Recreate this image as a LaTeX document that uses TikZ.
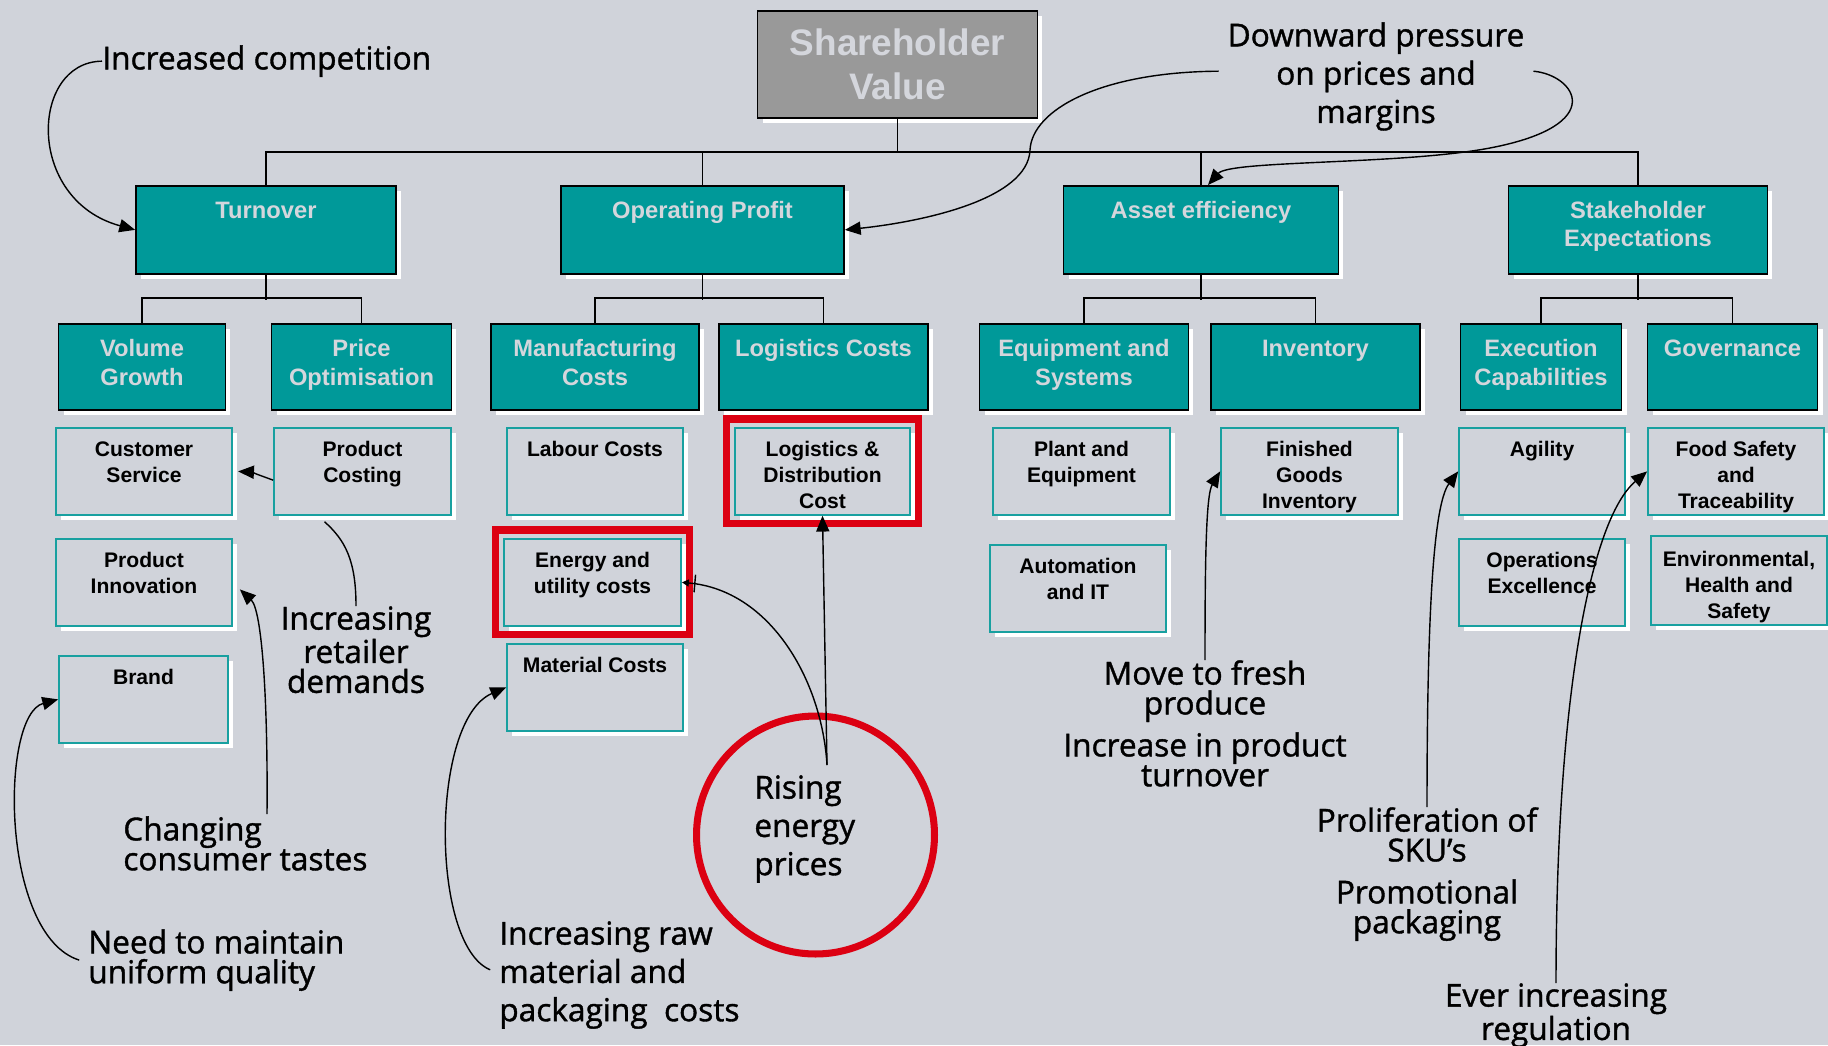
\documentclass[tikz,border=0pt]{standalone}
\usepackage{fontspec}
\setmainfont{Liberation Sans}
\newfontfamily\notefont[FakeBold=1.2]{Open Sans}
\usetikzlibrary{arrows.meta,shadows,calc,fit}
\definecolor{bgc}{RGB}{208,211,218}
\definecolor{tealbox}{RGB}{0,153,153}
\definecolor{tealline}{RGB}{24,160,160}
\definecolor{lighttext}{RGB}{212,214,220}
\definecolor{svgray}{RGB}{153,153,153}
\definecolor{alertred}{RGB}{220,0,18}
\newcommand{\boxlines}[1]{\begin{tabular}[t]{@{}c@{}}#1\end{tabular}}

\begin{document}
\begin{tikzpicture}[x=0.02cm, y=-0.02cm,
    whiteshadow/.style={drop shadow={fill=white, opacity=1, shadow xshift=0.1cm, shadow yshift=-0.1cm}},
    svbox/.style={draw=black, line width=1pt, fill=svgray, text=lighttext, font=\bfseries\fontsize{21}{24.6}\selectfont, inner ysep=0pt, text height=0.9cm, text depth=1.24cm, anchor=north, whiteshadow},
    lonebox/.style={draw=black, line width=1pt, fill=tealbox, text=lighttext, font=\bfseries\fontsize{13.5}{16}\selectfont, inner xsep=2pt, inner ysep=0pt, text height=0.66cm, text depth=1.1cm, anchor=north, whiteshadow},
    ltwobox/.style={lonebox, font=\bfseries\fontsize{13.5}{16.4}\selectfont, text depth=1.06cm},
    lthreebox/.style={draw=tealline, line width=1pt, fill=bgc, font=\bfseries\fontsize{12}{14.7}\selectfont, inner xsep=2pt, inner ysep=0pt, text height=0.58cm, text depth=1.16cm, anchor=north, whiteshadow},
    note/.style={font=\notefont\fontsize{18}{21.8}\selectfont, inner sep=0pt},
    tightnote/.style={note, font=\notefont\fontsize{18}{17}\selectfont},
    tree/.style={line width=1.1pt},
    arr/.style={line width=0.8pt, -{Triangle[length=9pt,width=7.5pt]}},
    alert/.style={draw=alertred, line width=4pt}]

    \path[use as bounding box, fill=bgc] (0,0) rectangle (1828,1045);

    \node[svbox, minimum width=5.6cm] (sv) at (897.5,10) {\boxlines{Shareholder\\Value}};

    \node[lonebox, minimum width=5.2cm] (turn) at (266,185) {\boxlines{Turnover}};
    \node[lonebox, minimum width=5.66cm] (op) at (702.5,185) {\boxlines{Operating Profit}};
    \node[lonebox, minimum width=5.5cm] (asset) at (1201,185) {\boxlines{Asset efficiency}};
    \node[lonebox, minimum width=5.18cm] (stake) at (1638,185) {\boxlines{Stakeholder\\Expectations}};

    \node[ltwobox, minimum width=3.34cm] (vol) at (142,323) {\boxlines{Volume\\Growth}};
    \node[ltwobox, minimum width=3.6cm] (price) at (361.5,323) {\boxlines{Price\\Optimisation}};
    \node[ltwobox, minimum width=4.16cm] (manu) at (595,323) {\boxlines{Manufacturing\\Costs}};
    \node[ltwobox, minimum width=4.18cm] (logc) at (823.5,323) {\boxlines{Logistics Costs}};
    \node[ltwobox, minimum width=4.18cm] (equip) at (1084,323) {\boxlines{Equipment and\\Systems}};
    \node[ltwobox, minimum width=4.18cm] (inv) at (1315.5,323) {\boxlines{Inventory}};
    \node[ltwobox, minimum width=3.22cm] (exec) at (1541,323) {\boxlines{Execution\\Capabilities}};
    \node[ltwobox, minimum width=3.4cm] (gov) at (1732.5,323) {\boxlines{Governance}};

    \node[lthreebox, minimum width=3.52cm] (cust) at (144,427) {\boxlines{Customer\\Service}};
    \node[lthreebox, minimum width=3.54cm] (pcost) at (362.5,427) {\boxlines{Product\\Costing}};
    \node[lthreebox, minimum width=3.52cm] (labour) at (595,427) {\boxlines{Labour Costs}};
    \node[lthreebox, minimum width=3.5cm] (logd) at (822.5,427) {\boxlines{Logistics \&\\Distribution\\Cost}};
    \node[lthreebox, minimum width=3.54cm] (plant) at (1081.5,427) {\boxlines{Plant and\\Equipment}};
    \node[lthreebox, minimum width=3.54cm] (fgi) at (1309.5,427) {\boxlines{Finished\\Goods\\Inventory}};
    \node[lthreebox, minimum width=3.32cm] (agility) at (1542,427) {\boxlines{Agility}};
    \node[lthreebox, minimum width=3.52cm] (food) at (1736,427) {\boxlines{Food Safety\\and\\Traceability}};

    \node[lthreebox, minimum width=3.52cm] (pinno) at (144,538) {\boxlines{Product\\Innovation}};
    \node[lthreebox, minimum width=3.54cm] (energy) at (592.5,538) {\boxlines{Energy and\\utility costs}};
    \node[lthreebox, minimum width=3.52cm] (auto) at (1078,544) {\boxlines{Automation\\and IT}};
    \node[lthreebox, minimum width=3.32cm] (opex) at (1542,538) {\boxlines{Operations\\Excellence}};
    \node[lthreebox, minimum width=3.52cm, text height=0.62cm] (env) at (1739,535) {\boxlines{Environmental,\\Health and\\Safety}};

    \node[lthreebox, minimum width=3.38cm] (brand) at (143.5,655) {\boxlines{Brand}};
    \node[lthreebox, minimum width=3.52cm] (mat) at (595,643) {\boxlines{Material Costs}};

    \coordinate (bus) at ($(sv.south)!.5!(op.north)$);
    \draw[tree] (sv.south) -- (sv.south |- bus);
    \draw[tree] (turn.north) |- (bus) -| (stake.north);
    \draw[tree] (op.north) -- (op.north |- bus);
    \draw[tree] (asset.north) -- (asset.north |- bus);

    \draw[tree] (turn.south) -- ++(0,25);
    \draw[tree] (vol.north) -- ++(0,-25) -| (price.north);
    \draw[tree] (op.south) -- ++(0,25);
    \draw[tree] (manu.north) -- ++(0,-25) -| (logc.north);
    \draw[tree] (asset.south) -- ++(0,25);
    \draw[tree] (equip.north) -- ++(0,-25) -| (inv.north);
    \draw[tree] (stake.south) -- ++(0,25);
    \draw[tree] (exec.north) -- ++(0,-25) -| (gov.north);

    \node[alert, fit=(logd), inner sep=0.16cm] (logdmark) {};
    \node[alert, fit=(energy), inner sep=0.16cm] (energymark) {};
    \node[alert, circle, minimum size=4.76cm] (ring) at (815.5,835) {};

    \node[note, anchor=north west] (comp) at (102,45) {Increased competition};
    \node[note, anchor=north, align=center] (down) at (1376,22) {Downward pressure\\on prices and\\margins};
    \node[tightnote, anchor=north, align=center] (retail) at (356,606) {Increasing\\retailer\\demands};
    \node[tightnote, anchor=north west, align=left] (change) at (123,816) {Changing\\consumer tastes};
    \node[tightnote, anchor=north west, align=left] (need) at (88,929) {Need to maintain\\uniform quality};
    \node[note, anchor=north west, align=left] (raw) at (499,921) {Increasing raw\\material and\\packaging\ \ costs};
    \node[note, anchor=north west, align=left] (rise) at (754,775) {Rising\\energy\\prices};
    \node[tightnote, anchor=north, align=center] (fresh) at (1205,660) {Move to fresh\\produce};
    \node[tightnote, anchor=north, align=center] (turnup) at (1205,732) {Increase in product\\turnover};
    \node[tightnote, anchor=north, align=center] (sku) at (1427,807) {Proliferation of\\SKU’s};
    \node[tightnote, anchor=north, align=center] (promo) at (1427,879) {Promotional\\packaging};
    \node[tightnote, anchor=north, align=center] (reg) at (1556,983) {Ever increasing\\regulation};

    \draw[arr] (comp.west) .. controls (30,62) and (25,200) .. (turn.west);
    \draw[arr] ([xshift=-5pt,yshift=3pt]down.west) .. controls (1100,72) and (1032,110) .. (1030,150) .. controls (1028,200) and (920,222) .. (op.east);
    \draw[arr] ([xshift=5pt,yshift=3pt]down.east) .. controls (1575,75) and (1610,125) .. (1490,148) .. controls (1400,165) and (1230,160) .. ([xshift=4pt]asset.north);
    \draw[arr] ([yshift=-5pt]pcost.west) .. controls (262,476) and (250,472) .. ([xshift=3pt]cust.east);
    \draw[line width=0.8pt] (retail.north) .. controls (356,560) and (345,540) .. ($(pcost.south)+(-38,6)$);
    \draw[arr] ($(change.north west)+(144,-2)$) .. controls (268,700) and (262,610) .. ([xshift=4pt,yshift=-4pt]pinno.east);
    \draw[arr] ([xshift=-5pt]need.west) .. controls (0,935) and (0,715) .. (brand.west);
    \draw[arr] ([xshift=-5pt,yshift=3pt]raw.west) .. controls (430,945) and (430,720) .. (mat.west);
    \coordinate (risetop) at ($(rise.north west)+(73,-10)$);
    \draw[arr] (risetop) -- (logd.south);
    \draw[line width=0.8pt, -{Bar[width=10pt,sep=3pt]Triangle[length=4pt,width=4pt]}] (risetop) .. controls (822,680) and (770,590) .. (energy.east);
    \draw[arr] (fresh.north) .. controls (1205,560) and (1206,495) .. (fgi.west);
    \draw[arr] (sku.north) .. controls (1427,620) and (1433,505) .. (agility.west);
    \draw[arr] (reg.north) .. controls (1556,700) and (1590,520) .. (food.west);
\end{tikzpicture}
\end{document}
